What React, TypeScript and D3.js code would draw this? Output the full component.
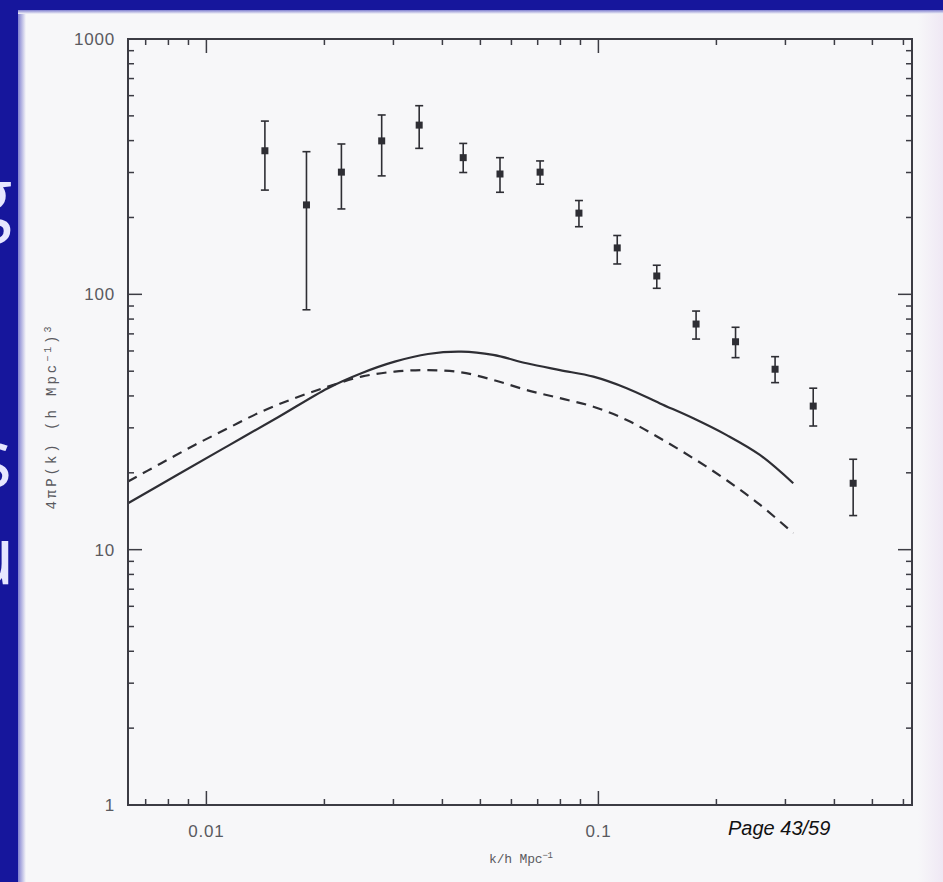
import React from "react";
import * as d3 from "d3";

// ---- data ----
const kData = [0.0141, 0.018, 0.0221, 0.028, 0.0349, 0.0452, 0.0561, 0.071, 0.0892, 0.1117, 0.1409, 0.1775, 0.2238, 0.2823, 0.3532, 0.4466];
const pData = [365, 224, 301, 399, 460, 343, 296, 301, 208, 152, 118, 76.5, 65.2, 50.9, 36.5, 18.2];
const pHigh = [477, 362, 388, 504, 548, 390, 343, 333, 233, 170, 130, 86, 74.3, 57, 42.9, 22.6];
const pLow = [256, 87, 216, 291, 373, 300, 251, 270, 184, 131.5, 105.6, 66.8, 56.5, 45.1, 30.5, 13.6];

const kSolid = [0.00631, 0.00846, 0.01135, 0.01523, 0.02042, 0.02485, 0.03023, 0.03675, 0.0447, 0.0539, 0.0656, 0.0798, 0.0971, 0.1181, 0.1436, 0.1746, 0.2125, 0.2582, 0.3141];
const pSolid = [15.2, 19.7, 25.5, 33.0, 42.9, 49.1, 54.5, 58.4, 59.6, 57.9, 53.7, 50.5, 47.6, 42.9, 37.4, 32.7, 28.1, 23.5, 18.2];

const kDashed = [0.00631, 0.00767, 0.00934, 0.01135, 0.0138, 0.0168, 0.02042, 0.02485, 0.03023, 0.03675, 0.0447, 0.0539, 0.0656, 0.0798, 0.0971, 0.1181, 0.1436, 0.1746, 0.2125, 0.2582, 0.3141];
const pDashed = [18.5, 21.8, 25.7, 29.9, 34.7, 39.2, 43.5, 47.6, 49.8, 50.5, 49.5, 46.2, 42.2, 39.2, 36.3, 32.2, 27.3, 22.8, 18.7, 15.0, 11.6];

const xTickValues = [0.01, 0.1];
const xTickLabels = ["0.01", "0.1"];
const yTickValues = [1, 10, 100, 1000];
const yTickLabels = ["1", "10", "100", "1000"];

const W = 943;
const H = 882;

export default function App() {
  const left = 128, right = 912, top = 39, bottom = 805;
  const x = d3.scaleLog().domain([Math.pow(10, -2.2), Math.pow(10, -0.2)]).range([left, right]);
  const y = d3.scaleLog().domain([1, 1000]).range([bottom, top]);

  const isMajor = (v: number) => Math.abs(Math.log10(v) - Math.round(Math.log10(v))) < 1e-6;
  const xTicks = x.ticks();
  const yTicks = y.ticks();

  const ink = "#2e2e34";
  const axisInk = "#3c3c44";
  const labelInk = "#5a5a60";

  const solidPts = kSolid.map((k, i) => [x(k), y(pSolid[i])] as [number, number]);
  const dashedPts = kDashed.map((k, i) => [x(k), y(pDashed[i])] as [number, number]);
  const line = d3.line<[number, number]>().curve(d3.curveCatmullRom.alpha(0.5));

  const majorLen = 14;
  const minorLen = 6;

  return (
    <svg width={W} height={H} style={{ position: "absolute", left: 0, top: 0, display: "block" }}>
      <defs>
        <linearGradient id="leftEdge" x1="0" x2="1" y1="0" y2="0">
          <stop offset="0" stopColor="#7f7fd0" />
          <stop offset="1" stopColor="#f7f7f9" />
        </linearGradient>
        <linearGradient id="topEdge" x1="0" x2="0" y1="0" y2="1">
          <stop offset="0" stopColor="#8080d0" />
          <stop offset="1" stopColor="#f7f7f9" />
        </linearGradient>
        <linearGradient id="rightEdge" x1="0" x2="1" y1="0" y2="0">
          <stop offset="0" stopColor="#f7f7f9" />
          <stop offset="1" stopColor="#efe8f4" />
        </linearGradient>
      </defs>
      {/* slide background */}
      <rect x={0} y={0} width={W} height={H} fill="#16169c" />
      <g fill="#e6e6ff" fontFamily="'Open Sans', 'DejaVu Sans', sans-serif" fontSize={80}>
        <text x={-31} y={226}>g</text>
        <text x={-26} y={487}>s:</text>
        <text x={-34} y={584}>u</text>
      </g>
      {/* white panel */}
      <rect x={18} y={10} width={W - 18} height={H - 10} fill="#f7f7f9" />
      <rect x={18} y={10} width={8} height={H - 10} fill="url(#leftEdge)" />
      <rect x={18} y={10} width={W - 18} height={4} fill="url(#topEdge)" />
      <rect x={918} y={14} width={25} height={H - 14} fill="url(#rightEdge)" />

      {/* curves */}
      <path d={line(solidPts) || ""} fill="none" stroke={ink} strokeWidth={2.2} />
      <path d={line(dashedPts) || ""} fill="none" stroke={ink} strokeWidth={2.2} strokeDasharray="10 7" />

      {/* error bars and points */}
      <g stroke={ink} strokeWidth={1.6}>
        {kData.map((k, i) => {
          const cx = x(k);
          return (
            <g key={i}>
              <line x1={cx} x2={cx} y1={y(pHigh[i])} y2={y(pLow[i])} />
              <line x1={cx - 4} x2={cx + 4} y1={y(pHigh[i])} y2={y(pHigh[i])} />
              <line x1={cx - 4} x2={cx + 4} y1={y(pLow[i])} y2={y(pLow[i])} />
              <rect x={cx - 3.5} y={y(pData[i]) - 3.5} width={7} height={7} fill={ink} stroke="none" />
            </g>
          );
        })}
      </g>

      {/* axes frame */}
      <rect x={left} y={top} width={right - left} height={bottom - top} fill="none" stroke={axisInk} strokeWidth={2} />
      <g stroke={axisInk} strokeWidth={1.5}>
        {xTicks.map((t, i) => {
          const L = isMajor(t) ? majorLen : minorLen;
          const px = x(t);
          return (
            <g key={"xt" + i}>
              <line x1={px} x2={px} y1={bottom} y2={bottom - L} />
              <line x1={px} x2={px} y1={top} y2={top + L} />
            </g>
          );
        })}
        {yTicks.map((t, i) => {
          const L = isMajor(t) ? majorLen : minorLen;
          const py = y(t);
          return (
            <g key={"yt" + i}>
              <line x1={left} x2={left + L} y1={py} y2={py} />
              <line x1={right} x2={right - L} y1={py} y2={py} />
            </g>
          );
        })}
      </g>

      {/* tick labels */}
      <g fill={labelInk} fontFamily="'Liberation Sans', Arial, sans-serif" fontSize={17} letterSpacing={0.8}>
        {xTickValues.map((v, i) => (
          <text key={"xl" + i} x={x(v)} y={bottom + 32} textAnchor="middle">{xTickLabels[i]}</text>
        ))}
        {yTickValues.map((v, i) => (
          <text key={"yl" + i} x={left - 13} y={y(v) + 6} textAnchor="end">{yTickLabels[i]}</text>
        ))}
      </g>

      {/* axis titles */}
      <text
        transform={`translate(56,418) rotate(-90)`}
        textAnchor="middle"
        fill={labelInk}
        fontFamily="'Liberation Mono', monospace"
        fontSize={14}
        textLength={183}
        lengthAdjust="spacing"
      >
        4πP(k) (h Mpc<tspan fontSize={10} dy={-5}>−1</tspan><tspan dy={5}>)</tspan><tspan fontSize={10} dy={-5}>3</tspan>
      </text>
      <text
        x={521}
        y={863}
        textAnchor="middle"
        fill={labelInk}
        fontFamily="'Liberation Mono', monospace"
        fontSize={13}
        textLength={64}
        lengthAdjust="spacing"
      >
        k/h Mpc<tspan fontSize={9} dy={-5}>−1</tspan>
      </text>

      {/* page number */}
      <text x={728} y={835} fill="#111" fontFamily="'Liberation Sans', Arial, sans-serif" fontStyle="italic" fontSize={20}>
        Page 43/59
      </text>
    </svg>
  );
}
